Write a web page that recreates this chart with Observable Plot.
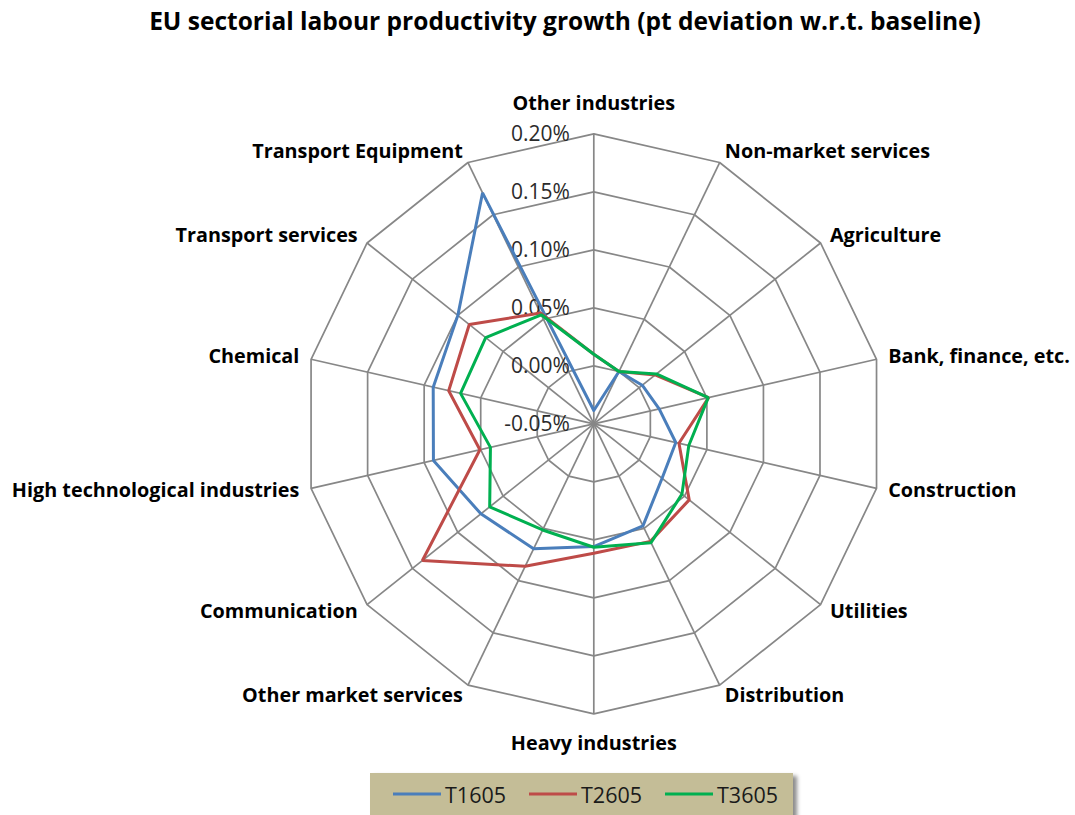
<!DOCTYPE html>
<html>
<head>
<meta charset="utf-8">
<script src="https://cdn.jsdelivr.net/npm/d3@7"></script>
<script src="https://cdn.jsdelivr.net/npm/@observablehq/plot@0.6"></script>
<style>
  html, body { margin: 0; padding: 0; background: #fff; }
  body { width: 1075px; height: 815px; overflow: hidden; font-family: "Open Sans", sans-serif; }
  #title { height: 55px; box-sizing: border-box; padding-top: 9px; padding-left: 55px; text-align: center;
           font-weight: bold; font-size: 24.5px; line-height: 1; color: #000; white-space: nowrap; }
  #chart { height: 710px; }
  #chart svg { display: block; }
  #legend { margin-top: 8px; margin-left: 370px; width: 423px; height: 46px; background: #C4BD97;
            box-shadow: 4px 3px 4px rgba(0,0,0,0.45); position: relative; }
  .item { position: absolute; top: 0; height: 42px; display: flex; align-items: center;
          font-size: 21.5px; color: #1a1a1a; }
  .item svg { margin-right: 4px; }
</style>
</head>
<body>
<div id="title">EU sectorial labour productivity growth (pt deviation w.r.t. baseline)</div>
<div id="chart"></div>
<div id="legend"></div>
<script>
// ---- data ----
const categories = [
  "Other industries", "Non-market services", "Agriculture", "Bank, finance, etc.",
  "Construction", "Utilities", "Distribution", "Heavy industries",
  "Other market services", "Communication", "High technological industries",
  "Chemical", "Transport services", "Transport Equipment"
];
// values in percent (0.17 = 0.17%)
const t1605 = [-0.0385, 0.000, 0.0034, 0.0078, 0.0225, 0.0253, 0.0477, 0.0558, 0.0696, 0.0745, 0.0918, 0.0920, 0.0999, 0.1710];
const t2605 = [0.0100, 0.000, 0.0176, 0.0515, 0.0253, 0.0552, 0.0625, 0.0616, 0.0863, 0.1390, 0.0507, 0.0783, 0.0873, 0.0560];
const t3605 = [0.0100, 0.000, 0.0190, 0.0512, 0.0340, 0.0472, 0.0637, 0.0564, 0.0516, 0.0648, 0.0414, 0.0678, 0.0692, 0.0543];
const seriesNames = ["T1605", "T2605", "T3605"];
const seriesColors = ["#4A7EBB", "#BE4B48", "#00B050"];
const tickValues = [-0.05, 0.00, 0.05, 0.10, 0.15, 0.20];

// ---- geometry helpers ----
const vMin = tickValues[0], vMax = tickValues[tickValues.length - 1];
const R = 290;                       // outer radius in px
const W = 1075, H = 710;
const cx = 593.3, cy = 368.3;        // centre inside the svg
const n = categories.length;
const ang = i => 2 * Math.PI * i / n;
const rad = v => (v - vMin) / (vMax - vMin) * R;
const X = (i, r) => r * Math.sin(ang(i));
const Y = (i, r) => r * Math.cos(ang(i));

const seriesRows = [];
[t1605, t2605, t3605].forEach((vals, s) => {
  for (let k = 0; k <= n; k++) {
    const i = k % n;
    seriesRows.push({series: seriesNames[s], i, value: vals[i]});
  }
});
const gridRows = [];
tickValues.slice(1).forEach(t => {
  for (let k = 0; k <= n; k++) gridRows.push({ring: t, i: k % n});
});
const catRows = categories.map((name, i) => ({name, i}));
const fmt = d => d3.format(".2f")(d).replace("\u2212", "-") + "%";

const labelFont = {fontFamily: "Open Sans", fontWeight: "bold", fontSize: 19.8, fill: "#000"};

const chart = Plot.plot({
  width: W, height: H,
  marginTop: 0, marginRight: 0, marginBottom: 0, marginLeft: 0,
  x: {domain: [-cx, W - cx], range: [0, W], axis: null},
  y: {domain: [-(H - cy), cy], range: [H, 0], axis: null},
  color: {domain: seriesNames, range: seriesColors},
  style: {background: "transparent"},
  marks: [
    // spokes
    Plot.link(catRows, {
      x1: 0, y1: 0,
      x2: d => X(d.i, rad(vMax)), y2: d => Y(d.i, rad(vMax)),
      stroke: "#878787", strokeWidth: 1.7
    }),
    // rings
    Plot.line(gridRows, {
      x: d => X(d.i, rad(d.ring)), y: d => Y(d.i, rad(d.ring)),
      z: "ring", stroke: "#878787", strokeWidth: 1.7, curve: "linear"
    }),
    // tick labels
    Plot.text(tickValues, {
      x: 0, y: d => rad(d), text: fmt, textAnchor: "end", dx: -24,
      fontFamily: "Open Sans", fontSize: 21, fill: "#2b2b2b"
    }),
    // series
    Plot.line(seriesRows, {
      x: d => X(d.i, rad(d.value)), y: d => Y(d.i, rad(d.value)),
      z: "series", stroke: "series", strokeWidth: 3, curve: "linear",
      strokeLinejoin: "miter", ariaLabel: "series"
    }),
    // category labels
    Plot.text(catRows.filter(d => d.i === 0 || d.i === n / 2), {
      x: d => X(d.i, rad(vMax) + 30), y: d => Y(d.i, rad(vMax) + 30),
      text: "name", textAnchor: "middle", ...labelFont
    }),
    Plot.text(catRows.filter(d => d.i > 0 && d.i < n / 2), {
      x: d => X(d.i, rad(vMax) + 12), y: d => Y(d.i, rad(vMax) + 12),
      text: "name", textAnchor: "start", ...labelFont
    }),
    Plot.text(catRows.filter(d => d.i > n / 2), {
      x: d => X(d.i, rad(vMax) + 12), y: d => Y(d.i, rad(vMax) + 12),
      text: "name", textAnchor: "end", ...labelFont
    })
  ]
});
d3.select(chart).selectAll('g[aria-label="series"]')
  .style("filter", "drop-shadow(2px 3px 2px rgba(0,0,0,0.35))");
document.getElementById("chart").appendChild(chart);

// legend (HTML, below the svg)
const legend = d3.select("#legend");
const itemLeft = [23, 159, 295];
seriesNames.forEach((name, s) => {
  const item = legend.append("div").attr("class", "item").style("left", itemLeft[s] + "px");
  const sw = item.append("svg").attr("width", 48).attr("height", 6);
  sw.append("line").attr("x1", 0).attr("x2", 48).attr("y1", 3).attr("y2", 3)
    .attr("stroke", seriesColors[s]).attr("stroke-width", 3);
  item.append("span").text(name);
});
</script>
</body>
</html>
